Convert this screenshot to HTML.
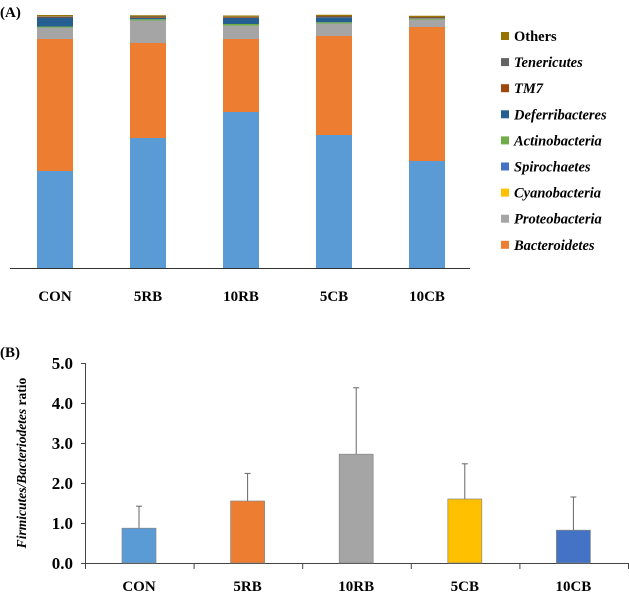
<!DOCTYPE html>
<html><head><meta charset="utf-8"><style>
body{margin:0;background:#fff;width:629px;height:594px;overflow:hidden;font-family:"Liberation Serif",serif;}
svg text{font-family:"Liberation Serif",serif;font-weight:bold;}
</style></head><body>
<svg id="c" width="629" height="594"></svg>
<script>
const catsA=["CON","5RB","10RB","5CB","10CB"];
const seriesNames=["Firmicutes","Bacteroidetes","Proteobacteria","Cyanobacteria","Spirochaetes","Actinobacteria","Deferribacteres","TM7","Tenericutes","Others"];
const seriesColors=["#5B9BD5","#ED7D31","#A5A5A5","#FFC000","#4472C4","#70AD47","#255E91","#9E480E","#636363","#997300"];
const firmicutes=[38.8,52,62.4,53.2,42.8];
const bacteroidetes=[52.8,38,29.2,39.6,53.6];
const proteobacteria=[4.4,8.8,5.2,4.8,2.8];
const cyanobacteria=[0.1,0.1,0.1,0.1,0.1];
const spirochaetes=[0.1,0.1,0.1,0.1,0.1];
const actinobacteria=[0.4,0.5,0.6,0.5,0.3];
const deferribacteres=[3.6,0.6,2.4,2.0,0.2];
const tm7=[0.3,0.3,0.3,0.3,0.3];
const tenericutes=[0.2,0.2,0.2,0.2,0.2];
const others=[0.5,0.5,0.5,0.5,0.5];
const catsB=["CON","5RB","10RB","5CB","10CB"];
const ratioVals=[0.87,1.55,2.72,1.6,0.82];
const ratioErr=[0.55,0.69,1.66,0.88,0.83];
const ratioTicks=["0.0","1.0","2.0","3.0","4.0","5.0"];
const colorsB=["#5B9BD5","#ED7D31","#A5A5A5","#FFC000","#4472C4"];

const svg=document.getElementById('c');const NS="http://www.w3.org/2000/svg";
function mk(t,a,p){const e=document.createElementNS(NS,t);for(const k in a)e.setAttribute(k,a[k]);(p||svg).appendChild(e);return e;}
function tx(x,y,s,sz,anc,it){const e=mk('text',{x:x,y:y,'font-size':sz,'text-anchor':anc||'middle'});if(it)e.setAttribute('font-style','italic');e.textContent=s;return e;}

let t=tx(0,17,"(A)",15,'start');


const allS=[firmicutes,bacteroidetes,proteobacteria,cyanobacteria,spirochaetes,actinobacteria,deferribacteres,tm7,tenericutes,others];
const yA=v=>268-v*2.5;const xA=i=>55+i*93;
catsA.forEach((c,i)=>{let cum=0;
 allS.forEach((s,j)=>{const r=mk('rect',{x:xA(i)-18,y:yA(cum+s[i]),width:36,height:s[i]*2.5,fill:seriesColors[j]});
  
  cum+=s[i];});
 const l=tx(xA(i),301,c,15);
 
 
});
let ax=mk('line',{x1:10,y1:268.5,x2:470,y2:268.5,stroke:'#333','stroke-width':1});


for(let k=9;k>=1;k--){const y=36+(9-k)*26.1;
 const m=mk('rect',{x:501,y:y-4,width:8,height:8,fill:seriesColors[k]});
 
 
 const l=tx(514,y+5,seriesNames[k],14.5,'start',k!==9);
 
 
}

t=tx(0,357,"(B)",15,'start');


const y0=563,yB=v=>y0-v*40,xB=i=>139+i*108.6;
let ya=mk('line',{x1:85.5,y1:363,x2:85.5,y2:y0,stroke:'#444'});


ratioTicks.forEach((s,i)=>{const y=yB(+s);
 mk('line',{x1:81,y1:y+.5,x2:86,y2:y+.5,stroke:'#444'});
 const l=tx(73,y+6,s,17,'end');
 
 });
let xb=mk('line',{x1:85,y1:y0+.5,x2:629,y2:y0+.5,stroke:'#444'});


for(let i=0;i<=5;i++)mk('line',{x1:85.5+i*108.6,y1:y0,x2:85.5+i*108.6,y2:y0+6,stroke:'#444'});
catsB.forEach((c,i)=>{const x=xB(i),v=ratioVals[i],e=ratioErr[i];
 const el=mk('line',{x1:x,y1:yB(v),x2:x,y2:yB(v+e),stroke:'#666'});
 
 
 mk('line',{x1:x-3,y1:yB(v+e),x2:x+3,y2:yB(v+e),stroke:'#666'});
 const r=mk('rect',{x:x-17,y:yB(v),width:34,height:v*40,fill:colorsB[i],stroke:'#888','stroke-width':0.7});
 
 
 const l=tx(x,591,c,15);
 
 
});
const yt=mk('text',{x:0,y:0,'font-size':13.5,'text-anchor':'middle',transform:'translate(26,463) rotate(-90)'});


const s1=mk('tspan',{'font-style':'italic'},yt);s1.textContent="Firmicutes/Bacteriodetes";
const s2=mk('tspan',{},yt);s2.textContent=" ratio";
</script>
</body></html>
